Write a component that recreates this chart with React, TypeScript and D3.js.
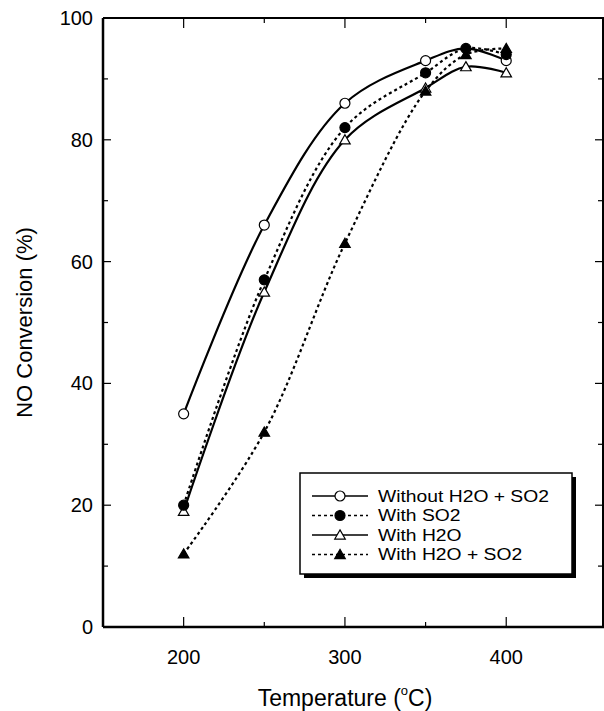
import React from "react";
import * as d3 from "d3";

const temps = [200, 250, 300, 350, 375, 400];
const withoutH2OSO2 = [35, 66, 86, 93, 95, 93];
const withSO2 = [20, 57, 82, 91, 95, 94];
const withH2O = [19, 55, 80, 88.5, 92, 91];
const withH2OSO2 = [12, 32, 63, 88, 94, 95];

const seriesNames = ["Without H2O + SO2", "With SO2", "With H2O", "With H2O + SO2"];
const xMajorTicks = [200, 300, 400];
const xMinorTicks = [250, 350];
const yMajorTicks = [0, 20, 40, 60, 80, 100];
const yMinorTicks = [10, 30, 50, 70, 90];

const W = 604;
const H = 711;
const L = 103, R = 603, T = 18, B = 627;

export default function App() {
  const x = d3.scaleLinear().domain([150, 460]).range([L, R]);
  const y = d3.scaleLinear().domain([0, 100]).range([B, T]);
  const font = "'Liberation Sans', Arial, Helvetica, sans-serif";

  const series = [
    { name: seriesNames[0], values: withoutH2OSO2, dash: null, marker: "circle", fill: "white" },
    { name: seriesNames[1], values: withSO2, dash: "3,3", marker: "circle", fill: "black" },
    { name: seriesNames[2], values: withH2O, dash: null, marker: "triangle", fill: "white" },
    { name: seriesNames[3], values: withH2OSO2, dash: "3,3", marker: "triangle", fill: "black" },
  ];

  const line = d3
    .line<[number, number]>()
    .x((d) => x(d[0]))
    .y((d) => y(d[1]))
    .curve(d3.curveCatmullRom.alpha(0.5));

  const tri = d3.symbol().type(d3.symbolTriangle).size(48)();

  const marker = (kind: string, fill: string, cx: number, cy: number, key: string) =>
    kind === "circle" ? (
      <circle key={key} cx={cx} cy={cy} r={5} fill={fill} stroke="black" strokeWidth={1.2} />
    ) : (
      <path key={key} d={tri as string} transform={`translate(${cx},${cy + 1})`} fill={fill} stroke="black" strokeWidth={1.2} />
    );

  // legend geometry
  const lgX = 300, lgY = 473, lgW = 272, lgH = 101;
  const rowY = [496, 515.5, 535, 554.5];

  return (
    <div style={{ position: "absolute", left: 0, top: 0 }}>
      <svg width={W} height={H} style={{ display: "block", background: "white" }} fontFamily={font}>
        <rect x={0} y={0} width={W} height={H} fill="white" />
        {/* series lines */}
        {series.map((s, i) => (
          <path
            key={"l" + i}
            d={line(temps.map((t, j) => [t, s.values[j]] as [number, number])) as string}
            fill="none"
            stroke="black"
            strokeWidth={2.2}
            strokeDasharray={s.dash ?? undefined}
          />
        ))}
        {/* markers: draw in an order matching overlap */}
        {[2, 0, 3, 1].map((i) =>
          temps.map((t, j) => {
            const s = series[i];
            if (i === 0 && t === 375) return null;
            return marker(s.marker, s.fill, x(t), y(s.values[j]), `m${i}-${j}`);
          })
        )}
        {/* frame */}
        <line x1={L} y1={B} x2={R + 2} y2={B} stroke="black" strokeWidth={2.5} />
        <line x1={L} y1={T} x2={L} y2={B} stroke="black" strokeWidth={2.5} />
        <line x1={L} y1={T} x2={R + 2} y2={T} stroke="black" strokeWidth={2} />
        <line x1={R} y1={T} x2={R} y2={B} stroke="black" strokeWidth={2} />
        {/* x ticks */}
        {xMajorTicks.map((t) => (
          <g key={"xt" + t}>
            <line x1={x(t)} x2={x(t)} y1={B} y2={B - 10} stroke="black" strokeWidth={1.2} />
            <line x1={x(t)} x2={x(t)} y1={T} y2={T + 10} stroke="black" strokeWidth={1.2} />
            <text x={x(t)} y={657} textAnchor="middle" dominantBaseline="central" fontSize={20}>
              {t}
            </text>
          </g>
        ))}
        {xMinorTicks.map((t) => (
          <g key={"xm" + t}>
            <line x1={x(t)} x2={x(t)} y1={B} y2={B - 5} stroke="black" strokeWidth={1.2} />
            <line x1={x(t)} x2={x(t)} y1={T} y2={T + 5} stroke="black" strokeWidth={1.2} />
          </g>
        ))}
        {/* y ticks */}
        {yMajorTicks.map((t) => (
          <g key={"yt" + t}>
            <line x1={L} x2={L + 8} y1={y(t)} y2={y(t)} stroke="black" strokeWidth={1.2} />
            <line x1={R} x2={R - 8} y1={y(t)} y2={y(t)} stroke="black" strokeWidth={1.2} />
            <text x={93} y={y(t)} textAnchor="end" dominantBaseline="central" fontSize={20}>
              {t}
            </text>
          </g>
        ))}
        {yMinorTicks.map((t) => (
          <g key={"ym" + t}>
            <line x1={L} x2={L + 5} y1={y(t)} y2={y(t)} stroke="black" strokeWidth={1.2} />
            <line x1={R} x2={R - 5} y1={y(t)} y2={y(t)} stroke="black" strokeWidth={1.2} />
          </g>
        ))}
        {/* axis titles */}
        <text x={345} y={698} textAnchor="middle" dominantBaseline="central" fontSize={23}>
          Temperature (<tspan dy={-8} fontSize={13}>o</tspan>
          <tspan dy={8}>C)</tspan>
        </text>
        <text
          transform={`translate(24,${(T + B) / 2}) rotate(-90)`}
          textAnchor="middle"
          dominantBaseline="central"
          fontSize={22}
        >
          NO Conversion (%)
        </text>
        {/* legend */}
        <rect x={lgX + 4} y={lgY + 4} width={lgW} height={lgH} fill="black" />
        <rect x={lgX} y={lgY} width={lgW} height={lgH} fill="white" stroke="black" strokeWidth={1.5} />
        {series.map((s, i) => (
          <g key={"lg" + i}>
            <line
              x1={312}
              x2={368}
              y1={rowY[i]}
              y2={rowY[i]}
              stroke="black"
              strokeWidth={1.5}
              strokeDasharray={s.dash ?? undefined}
            />
            {marker(s.marker, s.fill, 340, rowY[i], "lm" + i)}
            <text
              transform={`translate(378,${rowY[i]}) scale(1.17,1)`}
              dominantBaseline="central"
              fontSize={16.5}
            >
              {s.name}
            </text>
          </g>
        ))}
      </svg>
    </div>
  );
}
